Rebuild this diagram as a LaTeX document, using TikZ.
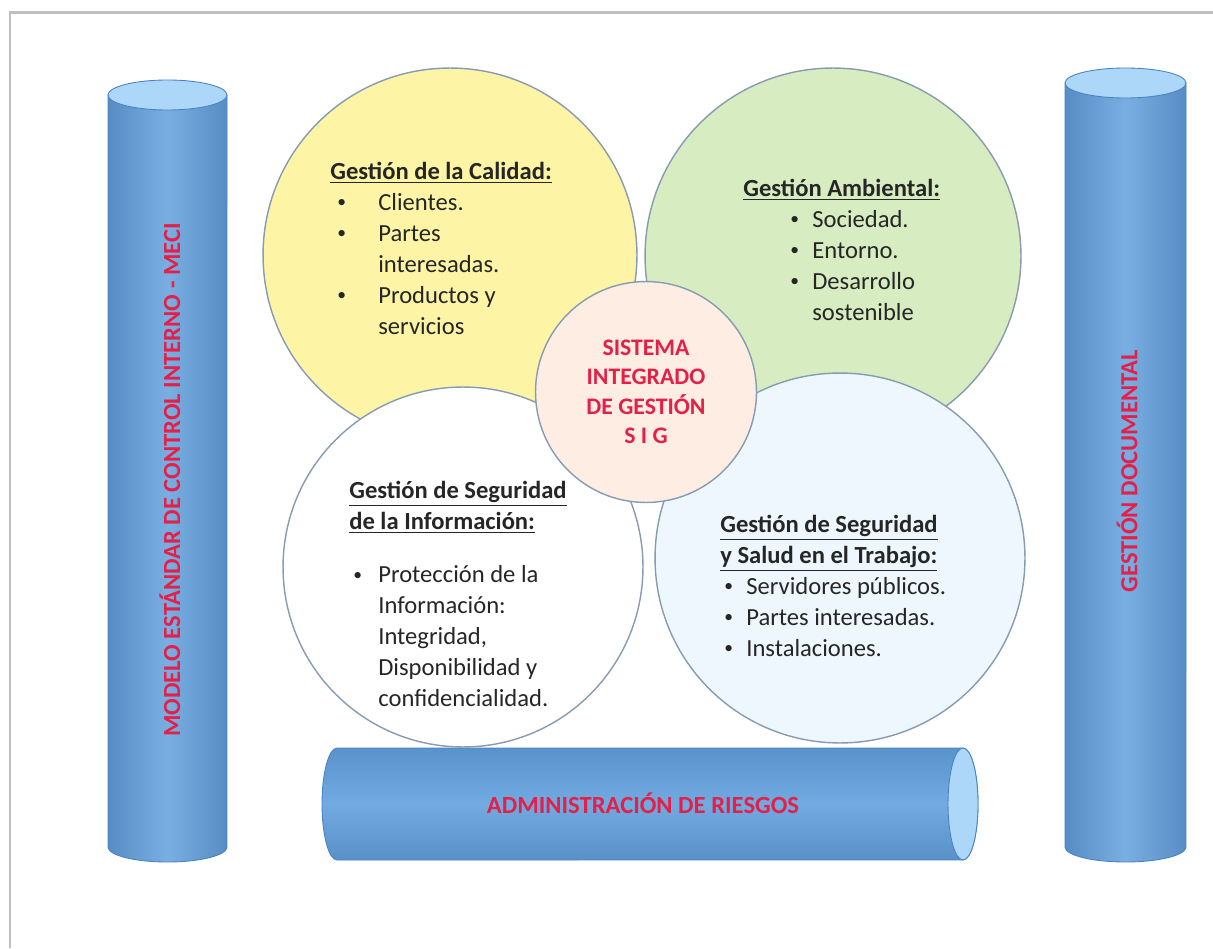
\documentclass[tikz,border=0pt]{standalone}
\usepackage{fontspec}
\setmainfont{Carlito}
\usetikzlibrary{positioning}
\definecolor{calidadfill}{RGB}{253,244,166}
\definecolor{ambientalfill}{RGB}{215,236,193}
\definecolor{sstfill}{RGB}{238,247,253}
\definecolor{sigfill}{RGB}{253,237,226}
\definecolor{ringline}{RGB}{135,155,178}
\definecolor{bodytext}{RGB}{38,38,38}
\definecolor{sigred}{RGB}{228,32,72}
\definecolor{pillarblue}{RGB}{98,160,222}
\definecolor{pillartop}{RGB}{172,215,248}
\definecolor{pillarline}{RGB}{72,132,196}
\definecolor{framegray}{RGB}{192,192,192}
\newcommand{\bitem}[3]{\hspace*{#1}\makebox[#2][l]{\raisebox{0.12em}{\fontsize{10}{10}\selectfont\textbullet}}#3}
\tikzset{
    areacircle/.style={circle, draw=ringline, line width=0.8pt, inner sep=0pt},
    areatext/.style={anchor=north west, inner sep=0pt, align=left, text=bodytext, font=\fontsize{14}{17.6}\selectfont},
    sigtext/.style={align=center, inner sep=0pt, text=sigred, font=\fontsize{13.5}{16.8}\selectfont\bfseries},
    pillartext/.style={inner sep=0pt, text=sigred, font=\fontsize{14}{16}\selectfont\bfseries},
    pillarbody/.style={draw=pillarline, line width=0.5pt, left color=pillarblue!88!black, right color=pillarblue!88!black, middle color=pillarblue!85!white},
    beambody/.style={draw=pillarline, line width=0.5pt, top color=pillarblue!92!black, bottom color=pillarblue!90!black, middle color=pillarblue!90!white},
    pillarend/.style={draw=pillarline, line width=0.5pt, fill=pillartop}
}

\begin{document}
\begin{tikzpicture}[x=0.02cm, y=0.02cm]
    \useasboundingbox (0,0) rectangle (1213,948);
    \fill[white] (0,0) rectangle (1213,948);
    \draw[framegray, line width=0.06cm] (10,0) -- (10,935) -- (1213,935);

    % Pillars
    \draw[pillarbody] (108,853) -- (108,101) arc (180:360:1.19cm and 0.3cm) -- (227,853) -- cycle;
    \draw[pillarend] (167.5,853) ellipse (1.19cm and 0.3cm);
    \draw[pillarbody] (1065,865) -- (1065,101) arc (180:360:1.21cm and 0.3cm) -- (1186,865) -- cycle;
    \draw[pillarend] (1125.5,865) ellipse (1.21cm and 0.3cm);
    \draw[beambody] (337,200) -- (963,200) arc (90:-90:0.3cm and 1.12cm) -- (337,88) arc (270:90:0.3cm and 1.12cm) -- cycle;
    \draw[pillarend] (963,144) ellipse (0.3cm and 1.12cm);

    \node[pillartext, rotate=90] (meci) at (170,468) {MODELO ESTÁNDAR DE CONTROL INTERNO - MECI};
    \node[pillartext, rotate=90] (documental) at (1127,477) {GESTIÓN DOCUMENTAL};
    \node[pillartext] (riesgos) at (643,145) {ADMINISTRACIÓN DE RIESGOS};

    % Management areas
    \node[areacircle, fill=calidadfill, minimum size=7.48cm] (calidad) at (450,693) {};
    \node[areacircle, fill=ambientalfill, minimum size=7.52cm] (ambiental) at (833,692) {};
    \node[areacircle, fill=white, minimum size=7.2cm] (informacion) at (463,381) {};
    \node[areacircle, fill=sstfill, minimum size=7.4cm] (sst) at (840,390) {};
    \node[areacircle, fill=sigfill, minimum size=4.42cm] (sig) at (646,556) {};

    \node[areatext] (calidadtxt) at (330,786) {\underline{\textbf{Gestión de la Calidad:}}\\
        \bitem{0.14cm}{0.82cm}{Clientes.}\\
        \bitem{0.14cm}{0.82cm}{Partes}\\
        \hspace*{0.96cm}interesadas.\\
        \bitem{0.14cm}{0.82cm}{Productos y}\\
        \hspace*{0.96cm}servicios};
    \node[areatext] (ambientaltxt) at (743,769) {\underline{\textbf{Gestión Ambiental:}}\\
        \bitem{0.94cm}{0.44cm}{Sociedad.}\\
        \bitem{0.94cm}{0.44cm}{Entorno.}\\
        \bitem{0.94cm}{0.44cm}{Desarrollo}\\
        \hspace*{1.38cm}sostenible};
    \node[areatext] (informaciontxt) at (349,467) {\underline{\textbf{Gestión de Seguridad}}\\
        \underline{\textbf{de la Información:}}\\[0.45cm]
        \bitem{0.08cm}{0.5cm}{Protección de la}\\
        \hspace*{0.58cm}Información:\\
        \hspace*{0.58cm}Integridad,\\
        \hspace*{0.58cm}Disponibilidad y\\
        \hspace*{0.58cm}confidencialidad.};
    \node[areatext] (ssttxt) at (720,433) {\underline{\textbf{Gestión de Seguridad}}\\
        \underline{\textbf{y Salud en el Trabajo:}}\\
        \bitem{0.08cm}{0.44cm}{Servidores públicos.}\\
        \bitem{0.08cm}{0.44cm}{Partes interesadas.}\\
        \bitem{0.08cm}{0.44cm}{Instalaciones.}};

    \node[sigtext] (sigtxt) at (sig) {SISTEMA\\ INTEGRADO\\ DE GESTIÓN\\ S I G};
\end{tikzpicture}
\end{document}
